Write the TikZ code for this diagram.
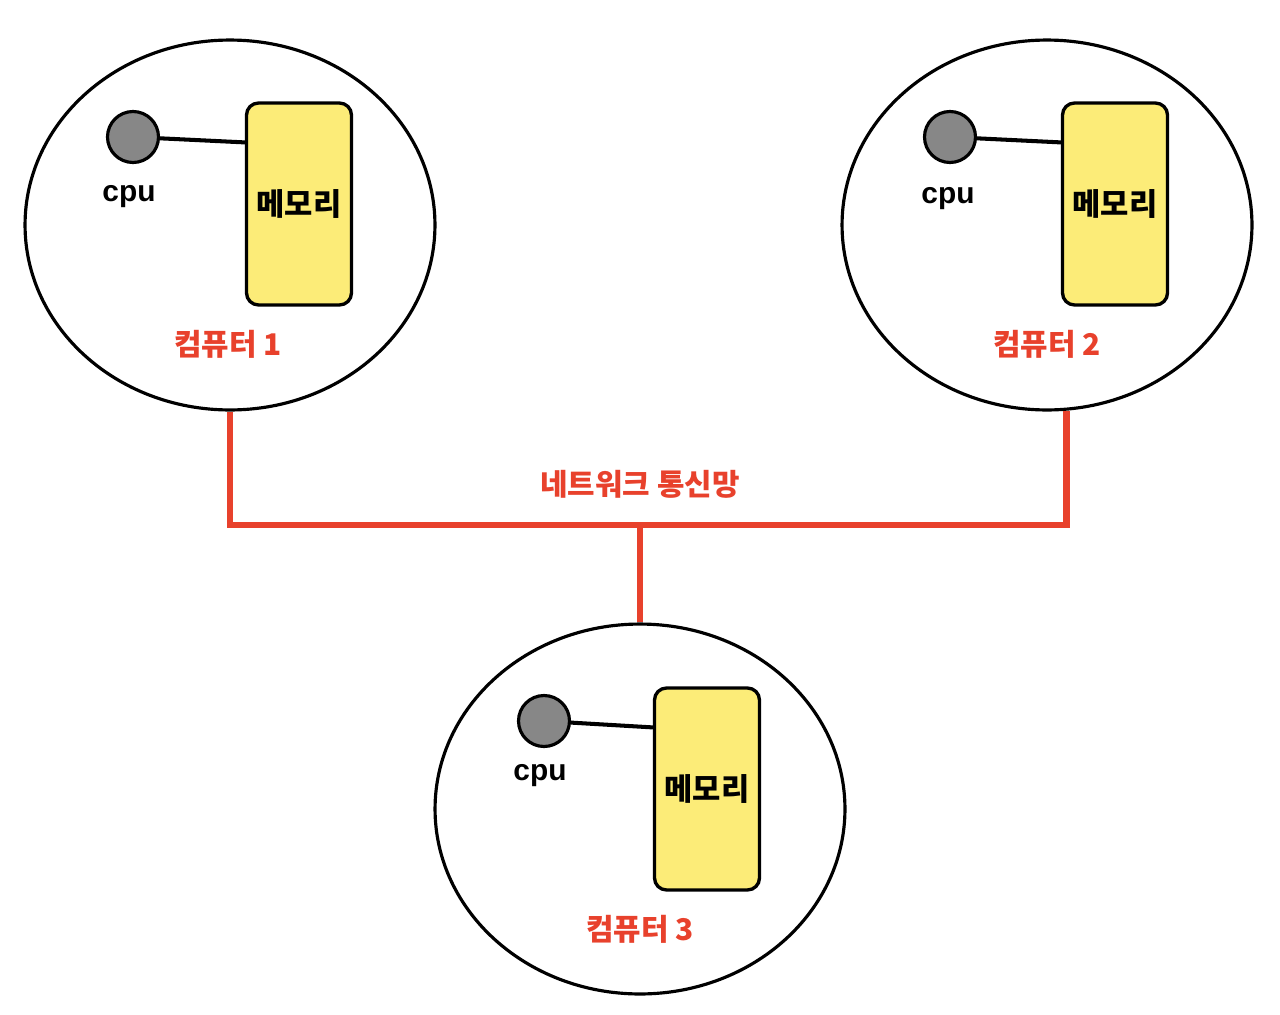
\documentclass[tikz,border=0pt]{standalone}
\usepackage{fontspec}
\setmainfont{Liberation Sans}
\newfontfamily\kr{Noto Sans CJK KR}
\usetikzlibrary{shapes.geometric,calc}
\definecolor{memyellow}{HTML}{FCEC78}
\definecolor{netred}{HTML}{E8412C}
\definecolor{cpugray}{HTML}{878787}
\tikzset{
  pc/.style={ellipse,draw=black,line width=1.8pt,minimum width=8.2cm,minimum height=7.4cm,inner sep=0pt},
  memory/.style={rectangle,rounded corners=0.24cm,draw=black,line width=1.9pt,fill=memyellow,
    minimum width=2.1cm,minimum height=4.04cm,font=\kr\bfseries\fontsize{17.5}{19}\selectfont},
  cpu/.style={circle,draw=black,line width=1.8pt,fill=cpugray,minimum size=1.02cm,inner sep=0pt},
  cpulabel/.style={font=\bfseries\fontsize{17}{19}\selectfont},
  pclabel/.style={text=netred,font=\kr\bfseries\fontsize{17}{19}\selectfont},
  link/.style={draw=black,line width=2.3pt},
  net/.style={draw=netred,line width=3.6pt}
}
\begin{document}
\begin{tikzpicture}[x=0.02cm,y=-0.02cm]
\useasboundingbox (0,0) rectangle (1280,1014);
% computers
\node[pc] (pc1) at (230,225) {};
\node[pc] (pc2) at (1047,225) {};
\node[pc] (pc3) at (640,809) {};
% computer 1
\node[memory] (mem1) at (299,204) {메모리};
\node[cpu] (cpu1) at (133,137) {};
\node[cpulabel] (cpuname1) at (129,197) {cpu};
\node[pclabel] (name1) at (228,344) {컴퓨터 1};
% computer 2
\node[memory] (mem2) at (1115,204) {메모리};
\node[cpu] (cpu2) at (950,137) {};
\node[cpulabel] (cpuname2) at (948,199) {cpu};
\node[pclabel] (name2) at (1047,344) {컴퓨터 2};
% computer 3
\node[memory] (mem3) at (707,789) {메모리};
\node[cpu] (cpu3) at (544,721) {};
\node[cpulabel] (cpuname3) at (540,776) {cpu};
\node[pclabel] (name3) at (640,929) {컴퓨터 3};
% cpu to memory
\draw[link] (cpu1) -- ($(mem1.north west)!0.2!(mem1.south west)$);
\draw[link] (cpu2) -- ($(mem2.north west)!0.2!(mem2.south west)$);
\draw[link] (cpu3) -- ($(mem3.north west)!0.2!(mem3.south west)$);
% network
\coordinate (bus) at (640,525);
\node[pclabel] (netname) at (640,484) {네트워크 통신망};
\draw[net] (pc1.south) |- (bus) -| (pc2.-84);
\draw[net] (bus) -- (pc3.north);
\end{tikzpicture}
\end{document}
